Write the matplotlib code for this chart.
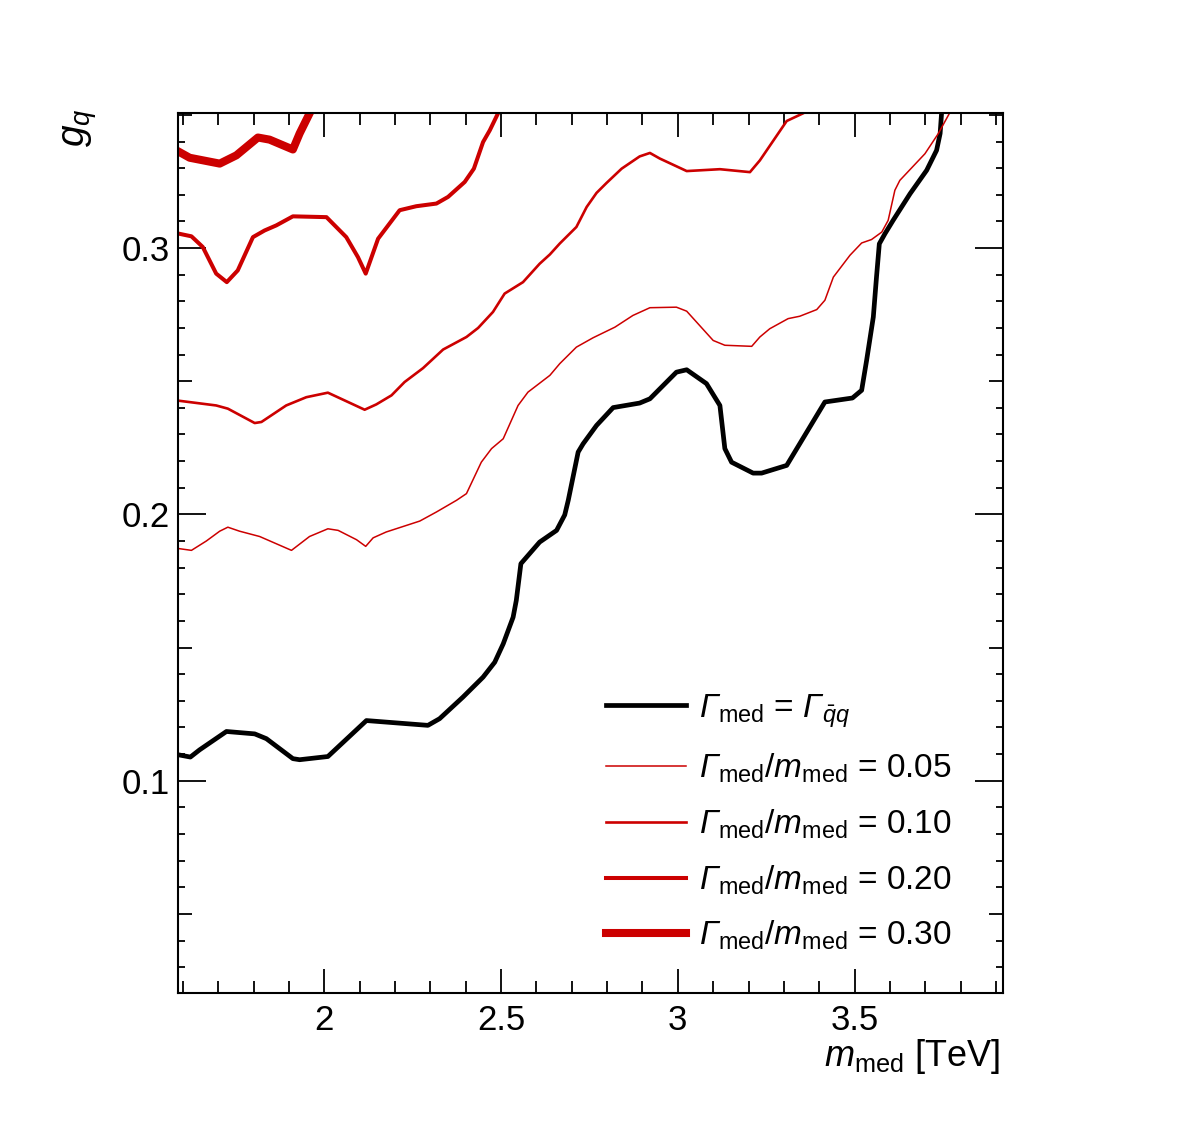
import matplotlib
matplotlib.use("Agg")
import matplotlib.pyplot as plt
from matplotlib.ticker import MultipleLocator, FixedLocator, FuncFormatter

plt.rcParams['font.family'] = ['Liberation Sans', 'DejaVu Sans']
plt.rcParams['mathtext.fontset'] = 'custom'
plt.rcParams['mathtext.rm'] = 'Liberation Sans'
plt.rcParams['mathtext.it'] = 'Liberation Sans:italic'
# bf slot used for italic capital Greek (mathtext forces Greek capitals upright in 'it')
plt.rcParams['mathtext.bf'] = 'Liberation Sans:italic'

# Gamma_med = Gamma_qq (black)
x_qq = [1.581, 1.621, 1.647, 1.723, 1.803, 1.836, 1.911, 1.930, 2.010, 2.119,
        2.293, 2.326, 2.392, 2.449, 2.482, 2.506, 2.534, 2.543, 2.556, 2.609,
        2.657, 2.680, 2.690, 2.718, 2.732, 2.770, 2.817, 2.892, 2.921, 2.996,
        3.025, 3.081, 3.119, 3.133, 3.152, 3.213, 3.237, 3.308, 3.416, 3.494,
        3.520, 3.534, 3.553, 3.562, 3.570, 3.586, 3.609, 3.657, 3.704, 3.732,
        3.742, 3.746]
y_qq = [0.1099, 0.1089, 0.1116, 0.1185, 0.1176, 0.1158, 0.1083, 0.1079, 0.1091, 0.1226,
        0.1208, 0.1233, 0.1314, 0.1389, 0.1445, 0.1514, 0.1614, 0.1677, 0.1815, 0.1896,
        0.1940, 0.1998, 0.2053, 0.2234, 0.2265, 0.2334, 0.2401, 0.2418, 0.2434, 0.2534,
        0.2543, 0.2491, 0.2409, 0.2247, 0.2196, 0.2155, 0.2155, 0.2184, 0.2422, 0.2437,
        0.2466, 0.2578, 0.2741, 0.2891, 0.3016, 0.3054, 0.3104, 0.3204, 0.3292, 0.3367,
        0.3430, 0.3505]

# Gamma/m = 0.05
x_005 = [1.581, 1.624, 1.666, 1.704, 1.727, 1.760, 1.817, 1.907, 1.958, 2.010,
         2.039, 2.091, 2.117, 2.138, 2.175, 2.270, 2.317, 2.374, 2.402, 2.444,
         2.473, 2.506, 2.548, 2.576, 2.638, 2.666, 2.713, 2.760, 2.822, 2.873,
         2.921, 2.996, 3.025, 3.100, 3.133, 3.209, 3.232, 3.260, 3.312, 3.345,
         3.393, 3.416, 3.440, 3.487, 3.520, 3.548, 3.577, 3.595, 3.614, 3.628,
         3.699, 3.737, 3.768]
y_005 = [0.1873, 0.1865, 0.1900, 0.1937, 0.1952, 0.1937, 0.1917, 0.1865, 0.1917, 0.1946,
         0.1940, 0.1905, 0.1880, 0.1912, 0.1934, 0.1975, 0.2009, 0.2053, 0.2078, 0.2196,
         0.2247, 0.2284, 0.2409, 0.2459, 0.2522, 0.2566, 0.2628, 0.2663, 0.2703, 0.2747,
         0.2776, 0.2778, 0.2763, 0.2653, 0.2635, 0.2631, 0.2666, 0.2697, 0.2735, 0.2744,
         0.2769, 0.2804, 0.2891, 0.2973, 0.3019, 0.3032, 0.3060, 0.3104, 0.3217, 0.3254,
         0.3354, 0.3430, 0.3505]

# Gamma/m = 0.10
x_010 = [1.581, 1.694, 1.727, 1.803, 1.822, 1.892, 1.949, 2.010, 2.114, 2.147,
         2.190, 2.227, 2.279, 2.336, 2.402, 2.435, 2.477, 2.510, 2.562, 2.609,
         2.638, 2.666, 2.713, 2.742, 2.770, 2.798, 2.841, 2.892, 2.921, 2.949,
         3.025, 3.119, 3.204, 3.232, 3.308, 3.353]
y_010 = [0.2428, 0.2409, 0.2397, 0.2343, 0.2347, 0.2409, 0.2440, 0.2457, 0.2393, 0.2413,
         0.2447, 0.2497, 0.2549, 0.2619, 0.2666, 0.2700, 0.2760, 0.2829, 0.2872, 0.2941,
         0.2976, 0.3017, 0.3079, 0.3154, 0.3207, 0.3244, 0.3298, 0.3344, 0.3357, 0.3336,
         0.3289, 0.3296, 0.3285, 0.3329, 0.3477, 0.3505]

# Gamma/m = 0.20
x_020 = [1.581, 1.624, 1.656, 1.694, 1.724, 1.755, 1.798, 1.831, 1.864, 1.911,
         2.006, 2.062, 2.095, 2.117, 2.152, 2.213, 2.260, 2.317, 2.350, 2.397,
         2.423, 2.449, 2.468, 2.491]
y_020 = [0.3056, 0.3044, 0.3004, 0.2904, 0.2872, 0.2916, 0.3041, 0.3066, 0.3085, 0.3119,
         0.3116, 0.3041, 0.2966, 0.2904, 0.3035, 0.3142, 0.3157, 0.3167, 0.3192, 0.3248,
         0.3298, 0.3398, 0.3442, 0.3505]

# Gamma/m = 0.30
x_030 = [1.581, 1.619, 1.704, 1.751, 1.812, 1.845, 1.911, 1.930, 1.958]
y_030 = [0.3367, 0.3339, 0.3317, 0.3348, 0.3415, 0.3407, 0.3370, 0.3430, 0.3505]

labels = [r'$\mathbf{\Gamma}_{\rm med}$ = $\mathbf{\Gamma}_{\bar{q}q}$',
          r'$\mathbf{\Gamma}_{\rm med}/m_{\rm med}$ = 0.05',
          r'$\mathbf{\Gamma}_{\rm med}/m_{\rm med}$ = 0.10',
          r'$\mathbf{\Gamma}_{\rm med}/m_{\rm med}$ = 0.20',
          r'$\mathbf{\Gamma}_{\rm med}/m_{\rm med}$ = 0.30']

red = '#cc0000'

fig = plt.figure(figsize=(11.82, 11.30), dpi=100)
ax = fig.add_axes([0.1506, 0.1212, 0.698, 0.7788])

ax.plot(x_qq, y_qq, color='black', lw=3.4, label=labels[0], solid_joinstyle='round')
ax.plot(x_005, y_005, color=red, lw=1.1, label=labels[1])
ax.plot(x_010, y_010, color=red, lw=1.9, label=labels[2])
ax.plot(x_020, y_020, color=red, lw=2.9, label=labels[3])
ax.plot(x_030, y_030, color=red, lw=5.8, label=labels[4])

ax.set_xlim(1.586, 3.92)
ax.set_ylim(0.0203, 0.3507)

# x axis ticks
ax.xaxis.set_major_locator(MultipleLocator(0.5))
ax.xaxis.set_minor_locator(MultipleLocator(0.1))
ax.xaxis.set_major_formatter(FuncFormatter(lambda v, p: '%g' % v))

# y axis: labelled every 0.1, medium ticks at 0.05, small at 0.01
ax.yaxis.set_major_locator(FixedLocator([0.05, 0.1, 0.15, 0.2, 0.25, 0.3, 0.35]))
ax.yaxis.set_minor_locator(MultipleLocator(0.01))
ax.yaxis.set_major_formatter(FuncFormatter(
    lambda v, p: ('%g' % v) if abs(round(v * 10) - v * 10) < 1e-6 else ''))

ax.tick_params(which='both', direction='in', top=True, right=True, width=1.3,
               labelsize=25, colors='black')
ax.tick_params(axis='x', which='major', length=17, pad=8)
ax.tick_params(axis='x', which='minor', length=8.5)
ax.tick_params(axis='y', which='major', length=20, pad=6)
ax.tick_params(axis='y', which='minor', length=5)

for t, v in zip(ax.yaxis.get_major_ticks(), ax.yaxis.get_majorticklocs()):
    if abs(round(v * 10) - v * 10) > 1e-6:
        t.tick1line.set_markersize(10)
        t.tick2line.set_markersize(10)

for s in ax.spines.values():
    s.set_linewidth(1.5)

fig.text(1000 / 1182, 1 - 1057 / 1130, r'$m_{\rm med}$ [TeV]', ha='right', va='center', fontsize=26)
fig.text(80 / 1182, 1 - 128 / 1130, r'$g_{q}$', rotation=90, ha='center', va='center', fontsize=28)

ax.legend(loc='upper left', bbox_to_anchor=(606 / 1182, 1 - 692 / 1130),
          bbox_transform=fig.transFigure, frameon=False, fontsize=24,
          handlelength=2.4, handletextpad=0.4, labelspacing=0.67, borderpad=0,
          borderaxespad=0)

fig.savefig('out.png', dpi=100)
